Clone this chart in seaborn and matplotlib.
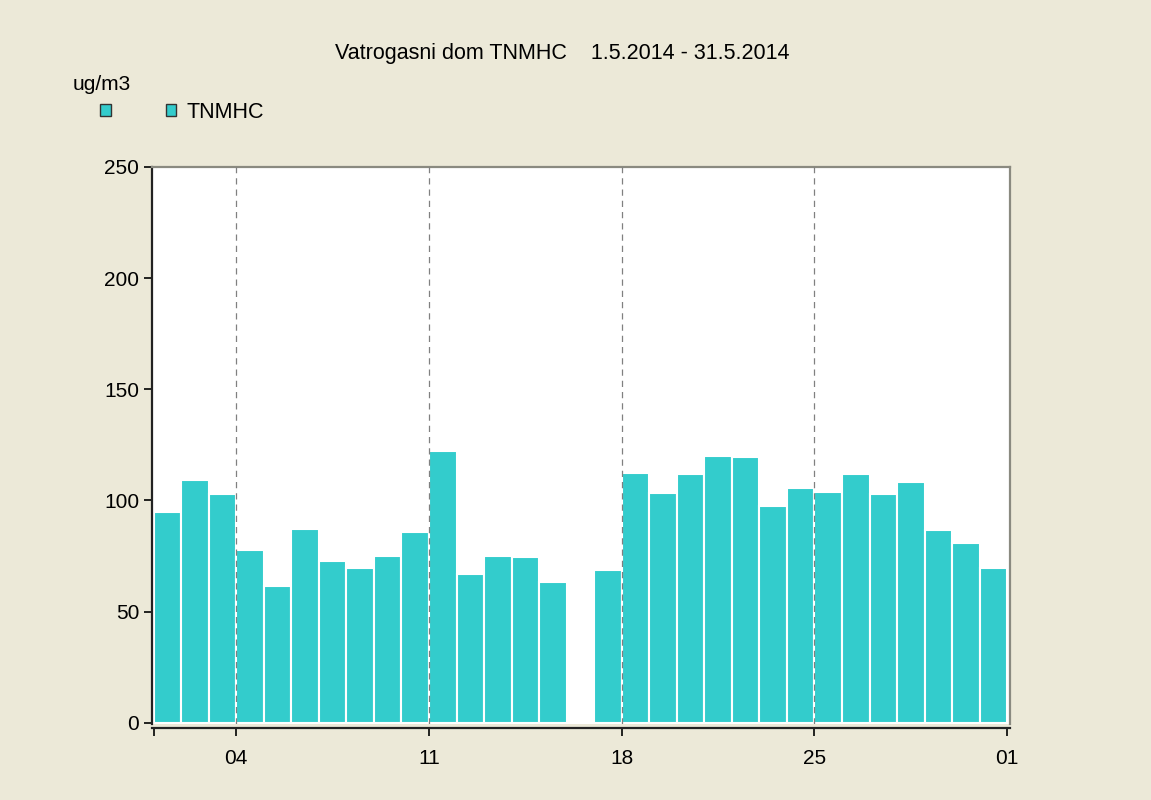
import numpy as np
import pandas as pd
import seaborn as sns
import matplotlib.pyplot as plt
from matplotlib.patches import Patch

# dnevne vrijednosti TNMHC, svibanj 2014 (16. nema podatka)
days = list(range(1, 32))
tnmhc = [95.0, 109.2, 102.8, 77.7, 61.5, 87.3, 72.6, 69.4, 75.1, 85.9,
         122.1, 66.7, 75.1, 74.5, 63.5, np.nan, 68.6, 112.3, 103.4, 111.7,
         120.2, 119.6, 97.7, 105.4, 104.0, 111.7, 102.8, 108.5, 86.7, 81.0,
         69.4]
tick_pos = [1, 4, 11, 18, 25, 32]
tick_lab = ['', '04', '11', '18', '25', '01']
yticks = [0, 50, 100, 150, 200, 250]

bg = '#ECE9D8'
cyan = '#33CCCC'

df = pd.DataFrame({'day': days, 'value': tnmhc}).dropna()
df['center'] = df['day'] + 0.5   # stupac pokriva cijeli dan

sns.set_theme(style='white')
plt.rcParams['font.family'] = ['Liberation Sans', 'DejaVu Sans']
plt.rcParams['text.color'] = 'black'

fig = plt.figure(figsize=(11.51, 8), dpi=100, facecolor=bg)
ax = fig.add_axes([0.1318, 0.0944, 0.7457, 0.6969])
ax.set_facecolor('white')

sns.barplot(data=df, x='center', y='value', native_scale=True, width=1,
            color=cyan, saturation=1, edgecolor='white', linewidth=1.5,
            errorbar=None, ax=ax)

for d in tick_pos[1:-1]:
    ax.axvline(d, color='#808080', lw=0.9, ls=(0, (5, 4)), zorder=5)

ax.set_xlim(0.93, 32.1)
ax.set_ylim(-0.8, 250)
ax.set_xticks(tick_pos)
ax.set_xticklabels(tick_lab)
ax.set_yticks(yticks)
ax.set_xlabel('')
ax.set_ylabel('')
ax.tick_params(axis='both', labelsize=15, colors='black', direction='out')
ax.tick_params(axis='x', length=6, width=1.2, pad=9, bottom=True)
ax.tick_params(axis='y', length=6, width=1.2, pad=3, left=True)

for s in ['left', 'bottom']:
    ax.spines[s].set_color('#222222')
    ax.spines[s].set_linewidth(1.6)
ax.spines['bottom'].set_position(('outward', 2.5))
for s in ['top', 'right']:
    ax.spines[s].set_color('#8a8a80')
    ax.spines[s].set_linewidth(1.6)

fig.text(562 / 1151, 1 - 53 / 800,
         'Vatrogasni dom TNMHC    1.5.2014 - 31.5.2014',
         ha='center', va='center', fontsize=15.5)
fig.text(73 / 1151, 1 - 85 / 800, 'ug/m3', ha='left', va='center', fontsize=15)

h = Patch(facecolor=cyan, edgecolor='#333333', linewidth=1)
fig.legend([h, h], ['', 'TNMHC'], ncol=2, loc='center left',
           bbox_to_anchor=(100 / 1151, 1 - 112 / 800), frameon=False,
           fontsize=15.5, handlelength=0.5, handleheight=0.5,
           handletextpad=0.45, columnspacing=2.1, borderpad=0,
           borderaxespad=0)

fig.savefig('out.png', dpi=100, facecolor=bg)
